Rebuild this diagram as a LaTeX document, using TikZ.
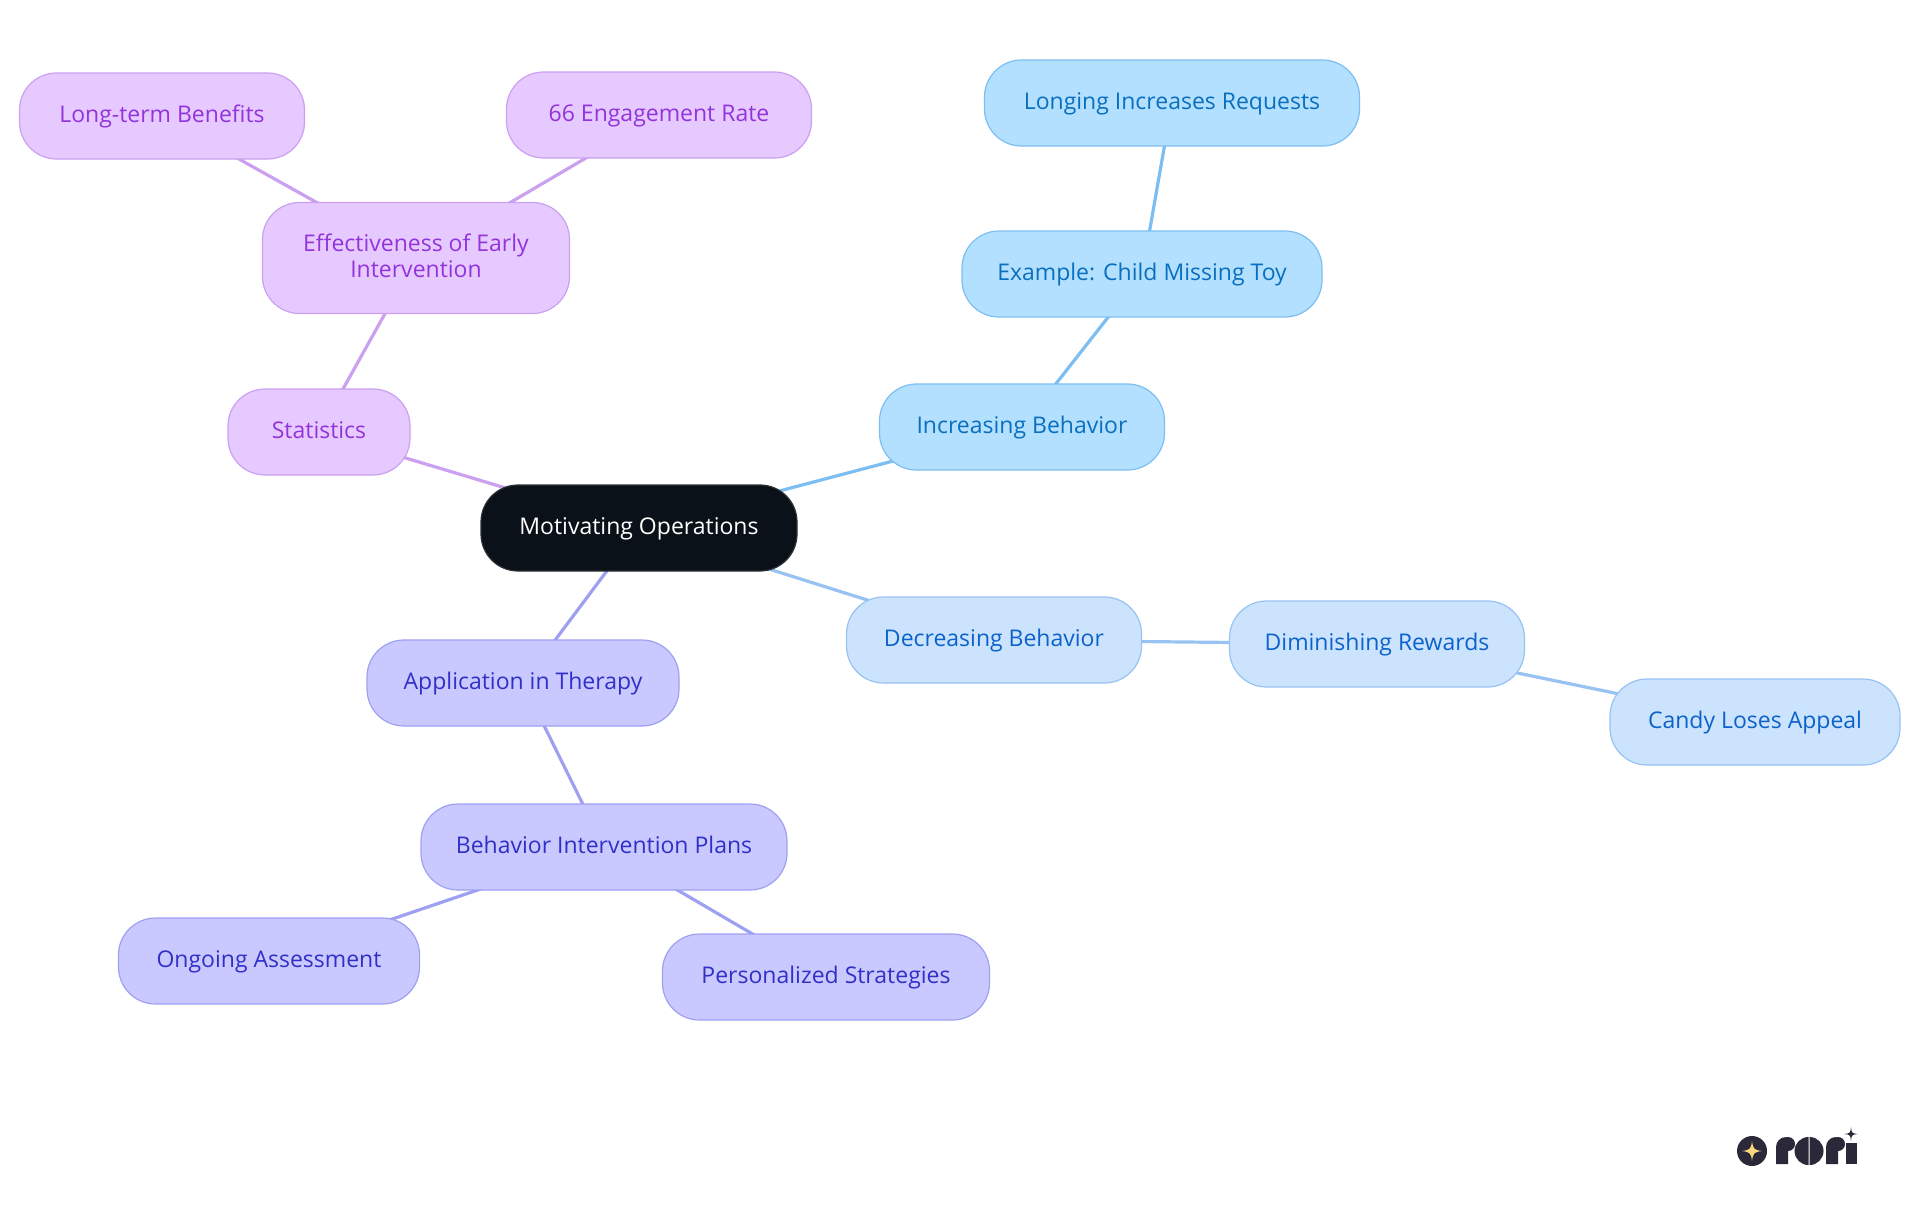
\documentclass[tikz,border=0pt]{standalone}
\usepackage{fontspec}
\setmainfont{Open Sans}
\usetikzlibrary{backgrounds}
\definecolor{rootfill}{HTML}{0B1119}
\definecolor{rootline}{HTML}{2C3038}
\definecolor{purplefill}{HTML}{E6CAFF}
\definecolor{purpleline}{HTML}{CBA0F0}
\definecolor{purpletext}{HTML}{9333DC}
\definecolor{bluefill}{HTML}{B3E0FF}
\definecolor{blueline}{HTML}{7CBEF2}
\definecolor{bluetext}{HTML}{0A6FBE}
\definecolor{paleblue}{HTML}{CCE3FD}
\definecolor{palebline}{HTML}{98C2F2}
\definecolor{palebtext}{HTML}{0C62CC}
\definecolor{indigofill}{HTML}{C9C9FF}
\definecolor{indigoline}{HTML}{9EA0F2}
\definecolor{indigotext}{HTML}{3030C8}
\definecolor{logodark}{HTML}{2A2839}
\definecolor{logostar}{HTML}{FAD67E}
\tikzset{
  mnode/.style={draw, rounded corners=18.5pt, line width=0.6pt, minimum height=43pt,
    inner sep=0pt, align=center, text height=8.9pt, text depth=2.5pt,
    font=\fontsize{11.5}{12.7}\selectfont},
  purplebox/.style={mnode, fill=purplefill, draw=purpleline, text=purpletext},
  bluebox/.style={mnode, fill=bluefill, draw=blueline, text=bluetext},
  palebox/.style={mnode, fill=paleblue, draw=palebline, text=palebtext},
  indigobox/.style={mnode, fill=indigofill, draw=indigoline, text=indigotext},
  link/.style={line width=1.6pt}
}
\begin{document}
\begin{tikzpicture}[x=0.5pt,y=-0.5pt]
\useasboundingbox (0,0) rectangle (1920,1215);
% root
\node[mnode, fill=rootfill, draw=rootline, text=white, minimum width=158pt] (root) at (639,528) {Motivating Operations};
% purple branch
\node[purplebox, minimum width=91pt] (stats) at (319,432) {Statistics};
\node[purplebox, minimum width=153.5pt, minimum height=55.5pt, text height=, text depth=2.4pt] (effect) at (416,258) {Effectiveness of Early\\Intervention};
\node[purplebox, minimum width=142.5pt] (longterm) at (162,116) {Long-term Benefits};
\node[purplebox, minimum width=152.5pt] (engage) at (659,115) {66 Engagement Rate};
% blue branch
\node[bluebox, minimum width=142.5pt] (incr) at (1022,427) {Increasing Behavior};
\node[bluebox, minimum width=180pt] (toy) at (1142,274) {Example: Child Missing Toy};
\node[bluebox, minimum width=187.5pt] (longing) at (1172,103) {Longing Increases Requests};
% pale blue branch
\node[palebox, minimum width=147.5pt] (decr) at (994,640) {Decreasing Behavior};
\node[palebox, minimum width=147.5pt] (dimin) at (1377,644) {Diminishing Rewards};
\node[palebox, minimum width=145pt] (candy) at (1755,722) {Candy Loses Appeal};
% indigo branch
\node[indigobox, minimum width=156pt] (therapy) at (523,683) {Application in Therapy};
\node[indigobox, minimum width=183pt] (plans) at (604,847) {Behavior Intervention Plans};
\node[indigobox, minimum width=150.5pt] (assess) at (269,961) {Ongoing Assessment};
\node[indigobox, minimum width=163.5pt] (strat) at (826,977) {Personalized Strategies};
% links
\begin{scope}[on background layer]
\draw[link, purpleline] (root.center) -- (stats.center);
\draw[link, purpleline] (stats.center) -- (effect.center);
\draw[link, purpleline] (effect.center) -- (longterm.center);
\draw[link, purpleline] (effect.center) -- (engage.center);
\draw[link, blueline] (root.center) -- (incr.center);
\draw[link, blueline] (incr.center) -- (toy.center);
\draw[link, blueline] (toy.center) -- (longing.center);
\draw[link, palebline] (root.center) -- (decr.center);
\draw[link, palebline] (decr.center) -- (dimin.center);
\draw[link, palebline] (dimin.center) -- (candy.center);
\draw[link, indigoline] (root.center) -- (therapy.center);
\draw[link, indigoline] (therapy.center) -- (plans.center);
\draw[link, indigoline] (plans.center) -- (assess.center);
\draw[link, indigoline] (plans.center) -- (strat.center);
\end{scope}
% logo
\fill[logodark] (1752,1151) circle (15);
\fill[logostar] (1752,1141) .. controls (1753,1149) and (1754,1150) .. (1762,1151) .. controls (1754,1152) and (1753,1153) .. (1752,1161) .. controls (1751,1153) and (1750,1152) .. (1742,1151) .. controls (1750,1150) and (1751,1149) .. (1752,1141) -- cycle;
\fill[logodark] (1776,1164) -- (1776,1147) arc (180:270:10) -- (1788,1147) -- (1788,1164) -- cycle;
\fill[logodark] (1788,1144) circle (7);
\fill[logodark] (1808.5,1165) arc (90:270:14) -- cycle;
\fill[logodark] (1809.5,1165) arc (90:-90:14) -- cycle;
\fill[logodark] (1826,1164) -- (1826,1147) arc (180:270:10) -- (1838,1147) -- (1838,1164) -- cycle;
\fill[logodark] (1838,1144) circle (7);
\fill[logodark] (1846,1143) -- (1857,1143) -- (1857,1164) -- (1846,1164) -- cycle;
\fill[logodark] (1851,1127) .. controls (1851.5,1133) and (1852,1133.5) .. (1858,1134) .. controls (1852,1134.5) and (1851.5,1135) .. (1851,1141) .. controls (1850.5,1135) and (1850,1134.5) .. (1844,1134) .. controls (1850,1133.5) and (1850.5,1133) .. (1851,1127) -- cycle;
\end{tikzpicture}
\end{document}
